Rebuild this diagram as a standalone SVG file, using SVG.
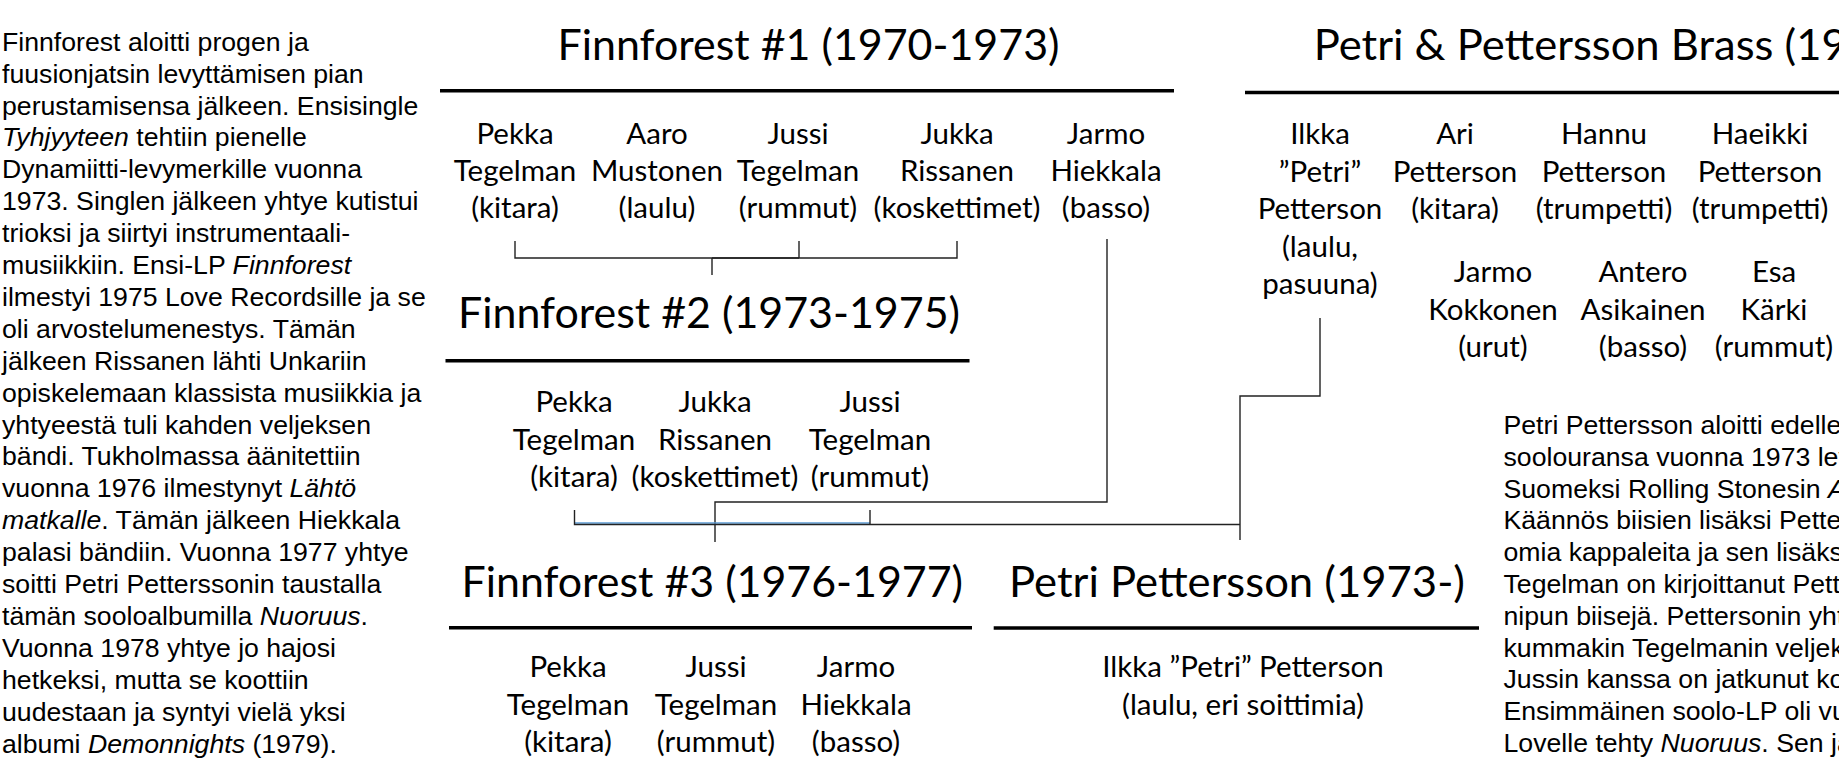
<svg xmlns="http://www.w3.org/2000/svg" width="1839" height="766" viewBox="0 0 1839 766">
<style>
.t{font-family:Lato,"Liberation Sans",sans-serif;font-size:42px;fill:#000}
.m{font-family:Lato,"Liberation Sans",sans-serif;font-size:29.5px;fill:#000;text-anchor:middle}
.p{font-family:"Liberation Sans",Arial,sans-serif;font-size:26.67px;fill:#000}
.i{font-style:italic}
.ln{stroke:#000;stroke-width:3.5;fill:none}
.c{stroke:#222;stroke-width:1.4;fill:none}
</style>
<rect width="1839" height="766" fill="#fff"/>

<g id="left-text" class="p">
<text x="2" y="50.7">Finnforest aloitti progen ja</text>
<text x="2" y="82.6">fuusionjatsin levyttämisen pian</text>
<text x="2" y="114.5">perustamisensa jälkeen. Ensisingle</text>
<text x="2" y="146.4"><tspan class="i">Tyhjyyteen</tspan> tehtiin pienelle</text>
<text x="2" y="178.3">Dynamiitti-levymerkille vuonna</text>
<text x="2" y="210.2">1973. Singlen jälkeen yhtye kutistui</text>
<text x="2" y="242.1">trioksi ja siirtyi instrumentaali-</text>
<text x="2" y="274">musiikkiin. Ensi-LP <tspan class="i">Finnforest</tspan></text>
<text x="2" y="305.9">ilmestyi 1975 Love Recordsille ja se</text>
<text x="2" y="337.8">oli arvostelumenestys. Tämän</text>
<text x="2" y="369.7">jälkeen Rissanen lähti Unkariin</text>
<text x="2" y="401.6">opiskelemaan klassista musiikkia ja</text>
<text x="2" y="433.5">yhtyeestä tuli kahden veljeksen</text>
<text x="2" y="465.4">bändi. Tukholmassa äänitettiin</text>
<text x="2" y="497.3">vuonna 1976 ilmestynyt <tspan class="i">Lähtö</tspan></text>
<text x="2" y="529.2"><tspan class="i">matkalle</tspan>. Tämän jälkeen Hiekkala</text>
<text x="2" y="561.1">palasi bändiin. Vuonna 1977 yhtye</text>
<text x="2" y="593">soitti Petri Petterssonin taustalla</text>
<text x="2" y="624.9">tämän sooloalbumilla <tspan class="i">Nuoruus</tspan>.</text>
<text x="2" y="656.8">Vuonna 1978 yhtye jo hajosi</text>
<text x="2" y="688.7">hetkeksi, mutta se koottiin</text>
<text x="2" y="720.6">uudestaan ja syntyi vielä yksi</text>
<text x="2" y="752.5">albumi <tspan class="i">Demonnights</tspan> (1979).</text>
</g>

<g id="right-text" class="p">
<text x="1503.5" y="434">Petri Pettersson aloitti edelle</text>
<text x="1503.5" y="465.8">soolouransa vuonna 1973 lev</text>
<text x="1503.5" y="497.6">Suomeksi Rolling Stonesin <tspan class="i">A</tspan></text>
<text x="1503.5" y="529.4">Käännös biisien lisäksi Pette</text>
<text x="1503.5" y="561.2">omia kappaleita ja sen lisäks</text>
<text x="1503.5" y="593">Tegelman on kirjoittanut Pett</text>
<text x="1503.5" y="624.8">nipun biisejä. Pettersonin yht</text>
<text x="1503.5" y="656.6">kummakin Tegelmanin veljek</text>
<text x="1503.5" y="688.4">Jussin kanssa on jatkunut ko</text>
<text x="1503.5" y="720.2">Ensimmäinen soolo-LP oli vu</text>
<text x="1503.5" y="752">Lovelle tehty <tspan class="i">Nuoruus</tspan>. Sen jä</text>
</g>

<g id="connectors">
<path class="c" d="M515,241 V258 H957 V241 M799,241 V258 M712,258 V275"/>
<path class="c" d="M712,258 H799" stroke-width="2.6"/>
<path class="c" d="M1107,239 V502 H715 V542"/>
<path d="M574.5,523 H870" stroke="#5b9bd5" stroke-width="1.6" fill="none"/>
<path class="c" d="M574.5,510 V524.5 H870 V510 M870,524.5 H1240"/>
<path class="c" d="M1320,318 V396 H1240 V540"/>
</g>

<g id="ff1">
<text class="t" x="557.5" y="60" textLength="502" lengthAdjust="spacingAndGlyphs">Finnforest #1 (1970-1973)</text>
<line class="ln" x1="440" y1="90.7" x2="1174" y2="90.7"/>
</g>
<g id="ff1-pekka" class="m"><text x="515" y="144">Pekka</text><text x="515" y="181">Tegelman</text><text x="515" y="218">(kitara)</text></g>
<g id="ff1-aaro" class="m"><text x="657" y="144">Aaro</text><text x="657" y="181">Mustonen</text><text x="657" y="218">(laulu)</text></g>
<g id="ff1-jussi" class="m"><text x="798" y="144">Jussi</text><text x="798" y="181">Tegelman</text><text x="798" y="218">(rummut)</text></g>
<g id="ff1-jukka" class="m"><text x="957" y="144">Jukka</text><text x="957" y="181">Rissanen</text><text x="957" y="218">(koskettimet)</text></g>
<g id="ff1-jarmo" class="m"><text x="1106" y="144">Jarmo</text><text x="1106" y="181">Hiekkala</text><text x="1106" y="218">(basso)</text></g>

<g id="ff2">
<text class="t" x="458" y="328" textLength="502" lengthAdjust="spacingAndGlyphs">Finnforest #2 (1973-1975)</text>
<line class="ln" x1="445.5" y1="360.7" x2="969.5" y2="360.7"/>
</g>
<g id="ff2-pekka" class="m"><text x="574" y="412">Pekka</text><text x="574" y="450">Tegelman</text><text x="574" y="487">(kitara)</text></g>
<g id="ff2-jukka" class="m"><text x="715" y="412">Jukka</text><text x="715" y="450">Rissanen</text><text x="715" y="487">(koskettimet)</text></g>
<g id="ff2-jussi" class="m"><text x="870" y="412">Jussi</text><text x="870" y="450">Tegelman</text><text x="870" y="487">(rummut)</text></g>

<g id="ff3">
<text class="t" x="461.5" y="597" textLength="501.5" lengthAdjust="spacingAndGlyphs">Finnforest #3 (1976-1977)</text>
<line class="ln" x1="449" y1="627.7" x2="972" y2="627.7"/>
</g>
<g id="ff3-pekka" class="m"><text x="568" y="677">Pekka</text><text x="568" y="715">Tegelman</text><text x="568" y="752">(kitara)</text></g>
<g id="ff3-jussi" class="m"><text x="716" y="677">Jussi</text><text x="716" y="715">Tegelman</text><text x="716" y="752">(rummut)</text></g>
<g id="ff3-jarmo" class="m"><text x="856" y="677">Jarmo</text><text x="856" y="715">Hiekkala</text><text x="856" y="752">(basso)</text></g>

<g id="pp">
<text class="t" x="1009" y="597" textLength="456" lengthAdjust="spacingAndGlyphs">Petri Pettersson (1973-)</text>
<line class="ln" x1="993.7" y1="628" x2="1479" y2="628"/>
</g>
<g id="pp-ilkka" class="m"><text x="1243" y="677">Ilkka ”Petri” Petterson</text><text x="1243" y="715">(laulu, eri soittimia)</text></g>

<g id="ppb">
<text class="t" x="1313.7" y="60" textLength="533" lengthAdjust="spacingAndGlyphs">Petri &amp; Pettersson Brass (19</text>
<line class="ln" x1="1245" y1="92.5" x2="1839" y2="92.5"/>
</g>
<g id="ppb-ilkka" class="m"><text x="1320" y="144">Ilkka</text><text x="1320" y="181.5">”Petri”</text><text x="1320" y="219">Petterson</text><text x="1320" y="256.5">(laulu,</text><text x="1320" y="294">pasuuna)</text></g>
<g id="ppb-ari" class="m"><text x="1455" y="144">Ari</text><text x="1455" y="181.5">Petterson</text><text x="1455" y="219">(kitara)</text></g>
<g id="ppb-hannu" class="m"><text x="1604" y="144">Hannu</text><text x="1604" y="181.5">Petterson</text><text x="1604" y="219">(trumpetti)</text></g>
<g id="ppb-haeikki" class="m"><text x="1760" y="144">Haeikki</text><text x="1760" y="181.5">Petterson</text><text x="1760" y="219">(trumpetti)</text></g>
<g id="ppb-jarmo" class="m"><text x="1493" y="282">Jarmo</text><text x="1493" y="320">Kokkonen</text><text x="1493" y="357">(urut)</text></g>
<g id="ppb-antero" class="m"><text x="1643" y="282">Antero</text><text x="1643" y="320">Asikainen</text><text x="1643" y="357">(basso)</text></g>
<g id="ppb-esa" class="m"><text x="1774" y="282">Esa</text><text x="1774" y="320">Kärki</text><text x="1774" y="357">(rummut)</text></g>
</svg>
